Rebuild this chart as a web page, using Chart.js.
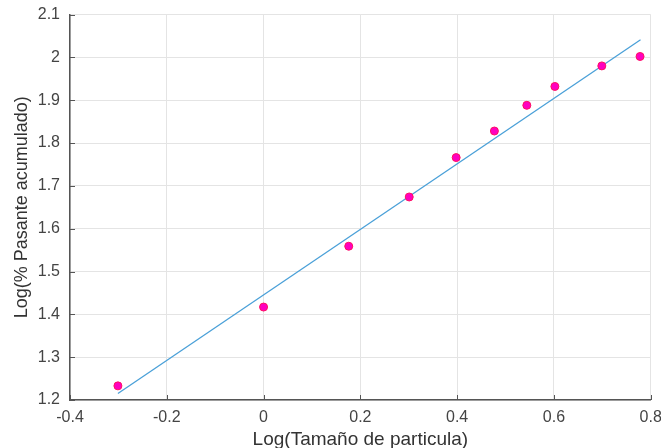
<!DOCTYPE html>
<html><head><meta charset="utf-8">
<script src="https://cdn.jsdelivr.net/npm/chart.js@4/dist/chart.umd.min.js"></script>
<style>html,body{margin:0;padding:0;background:#fff}#wrap{width:661px;height:448px}</style>
</head><body><div id="wrap"><canvas id="c" width="661" height="448"></canvas></div>
<script>
const logSize = [-0.301, 0.0, 0.176, 0.301, 0.398, 0.477, 0.544, 0.602, 0.699, 0.778];
const logPassing = [1.233, 1.417, 1.559, 1.674, 1.766, 1.828, 1.888, 1.932, 1.980, 2.002];
const fitX = [-0.301, 0.779];
const fitY = [1.215, 2.041];
const xTitle = 'Log(Tamaño de particula)';
const yTitle = 'Log(% Pasante acumulado)';

const inwardTicks = {
  id: 'inwardTicks',
  afterDatasetsDraw(chart) {
    const ctx = chart.ctx, xs = chart.scales.x, ys = chart.scales.y, a = chart.chartArea;
    ctx.save();
    ctx.strokeStyle = '#555'; ctx.lineWidth = 1;
    xs.ticks.forEach(t => { const p = Math.round(xs.getPixelForValue(t.value)) + 0.5;
      ctx.beginPath(); ctx.moveTo(p, a.bottom); ctx.lineTo(p, a.bottom - 5); ctx.stroke(); });
    ys.ticks.forEach(t => { const p = Math.round(ys.getPixelForValue(t.value)) + 0.5;
      ctx.beginPath(); ctx.moveTo(a.left, p); ctx.lineTo(a.left + 5, p); ctx.stroke(); });
    ctx.restore();
  }
};

new Chart(document.getElementById('c'), {
  type: 'scatter',
  data: { datasets: [
    { type: 'line', data: fitX.map((x, i) => ({x, y: fitY[i]})), borderColor: '#4aa0d8', borderWidth: 1.3, pointRadius: 0, fill: false, order: 2 },
    { data: logSize.map((x, i) => ({x, y: logPassing[i]})), backgroundColor: '#ff00c0', borderColor: '#ff1060', borderWidth: 1, pointRadius: 4, order: 1 }
  ]},
  options: {
    responsive: false, animation: false, devicePixelRatio: 1,
    layout: { padding: { top: 14.5, right: 10.3, left: 0, bottom: 0 } },
    plugins: { legend: { display: false }, tooltip: { enabled: false } },
    scales: {
      x: { type: 'linear', min: -0.4, max: 0.8,
        ticks: { stepSize: 0.2, color: '#444', font: { family: 'Liberation Sans', size: 16 }, padding: 8,
          callback: v => String(+v.toFixed(1)) },
        grid: { color: '#e4e4e4', drawTicks: false },
        border: { color: '#555', width: 1.5 },
        title: { display: true, text: xTitle, color: '#333', font: { family: 'Liberation Sans', size: 19 }, padding: { top: 0, bottom: -3 } },
        afterFit: s => { s.height = 48; s.paddingLeft = 0; s.paddingRight = 0; } },
      y: { type: 'linear', min: 1.2, max: 2.1,
        ticks: { stepSize: 0.1, color: '#444', font: { family: 'Liberation Sans', size: 16 }, padding: 10,
          callback: v => String(+v.toFixed(1)) },
        grid: { color: '#e4e4e4', drawTicks: false },
        border: { color: '#555', width: 1.5 },
        title: { display: true, text: yTitle, color: '#333', font: { family: 'Liberation Sans', size: 18 }, padding: { top: 11, bottom: 0 } },
        afterFit: s => { s.width = 70; s.paddingTop = 0; s.paddingBottom = 0; } }
    }
  },
  plugins: [inwardTicks]
});
</script></body></html>
